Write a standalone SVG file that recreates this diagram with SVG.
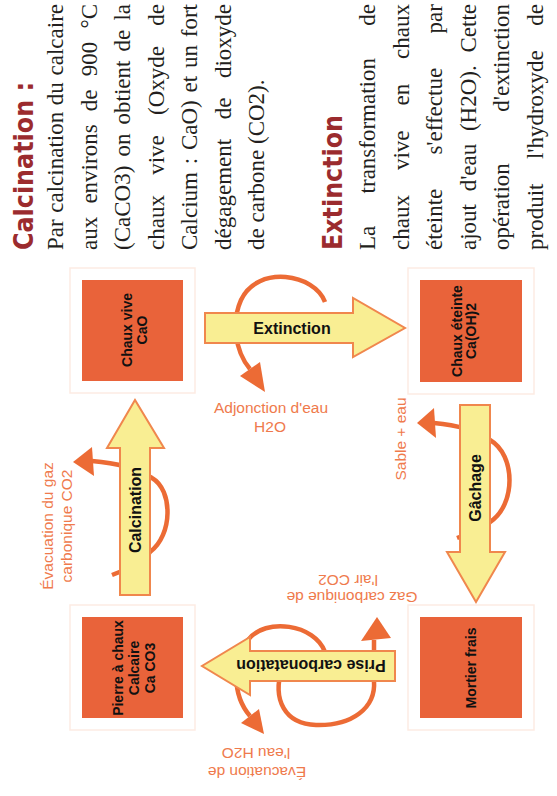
<svg xmlns="http://www.w3.org/2000/svg" width="557" height="796" viewBox="0 0 557 796">
<style>
.body{font-family:"Liberation Serif","Times New Roman",serif;font-size:23px;fill:#231f20}
.head{font-family:"DejaVu Sans","Liberation Sans",sans-serif;font-weight:bold;font-size:27px;fill:#9b2b2e}
.box{fill:#e9633a}
.halo{fill:none;stroke:#fdebe3;stroke-width:1.5}
.ntext{font-family:"Liberation Sans",Arial,sans-serif;font-weight:bold;font-size:14px;fill:#111;text-anchor:middle}
.proc{fill:#f9ee93;stroke:#f0874d;stroke-width:2;stroke-linejoin:miter}
.plabel{font-family:"Liberation Sans",Arial,sans-serif;font-weight:bold;font-size:16px;fill:#111;text-anchor:middle}
.flow{fill:none;stroke:#ec6b35;stroke-width:4.5;stroke-linecap:butt}
.fhead{fill:#ec6b35}
.olabel{font-family:"Liberation Sans",Arial,sans-serif;font-size:15.5px;fill:#ef7a4c;text-anchor:middle}
.e{text-anchor:end}
</style>
<rect width="557" height="796" fill="#ffffff"/>

<g id="text-column">
  <text class="head" transform="translate(33,250) rotate(-90)" textLength="168" lengthAdjust="spacingAndGlyphs">Calcination :</text>
  <text class="body" transform="translate(63,250) rotate(-90)"><tspan x="0">Par</tspan><tspan x="37.3">calcination</tspan><tspan x="144.85">du</tspan><tspan x="246" class="e">calcaire</tspan></text>
  <text class="body" transform="translate(96.5,250) rotate(-90)"><tspan x="0">aux</tspan><tspan x="46.4">environs</tspan><tspan x="138.8">de</tspan><tspan x="173.7">900</tspan><tspan x="246" class="e">°C</tspan></text>
  <text class="body" transform="translate(130,250) rotate(-90)"><tspan x="0">(CaCO3)</tspan><tspan x="93.4">on</tspan><tspan x="125.5">obtient</tspan><tspan x="198.5">de</tspan><tspan x="246" class="e">la</tspan></text>
  <text class="body" transform="translate(163.5,250) rotate(-90)"><tspan x="0">chaux</tspan><tspan x="75.2">vive</tspan><tspan x="135.1">(Oxyde</tspan><tspan x="246" class="e">de</tspan></text>
  <text class="body" transform="translate(197,250) rotate(-90)"><tspan x="0">Calcium</tspan><tspan x="85.7">:</tspan><tspan x="99.9">CaO)</tspan><tspan x="157.5">et</tspan><tspan x="181.9">un</tspan><tspan x="246" class="e">fort</tspan></text>
  <text class="body" transform="translate(230.5,250) rotate(-90)"><tspan x="0">dégagement</tspan><tspan x="130.7">de</tspan><tspan x="246" class="e">dioxyde</tspan></text>
  <text class="body" transform="translate(264,250) rotate(-90)">de carbone (CO2).</text>

  <text class="head" transform="translate(342,250) rotate(-90)" textLength="135" lengthAdjust="spacingAndGlyphs">Extinction</text>
  <text class="body" transform="translate(375,250) rotate(-90)"><tspan x="0">La</tspan><tspan x="56.6">transformation</tspan><tspan x="246" class="e">de</tspan></text>
  <text class="body" transform="translate(408.5,250) rotate(-90)"><tspan x="0">chaux</tspan><tspan x="79.9">vive</tspan><tspan x="144.5">en</tspan><tspan x="246" class="e">chaux</tspan></text>
  <text class="body" transform="translate(442,250) rotate(-90)"><tspan x="0">éteinte</tspan><tspan x="95.4">s'effectue</tspan><tspan x="246" class="e">par</tspan></text>
  <text class="body" transform="translate(475.5,250) rotate(-90)"><tspan x="0">ajout</tspan><tspan x="58.7">d'eau</tspan><tspan x="118.9">(H2O).</tspan><tspan x="246" class="e">Cette</tspan></text>
  <text class="body" transform="translate(509,250) rotate(-90)"><tspan x="0">opération</tspan><tspan x="246" class="e">d'extinction</tspan></text>
  <text class="body" transform="translate(542.5,250) rotate(-90)"><tspan x="0">produit</tspan><tspan x="90.9">l'hydroxyde</tspan><tspan x="246" class="e">de</tspan></text>
</g>

<g id="side-flows">
  <g id="flow-adjonction">
    <path class="flow" d="M 325 302 C 315 274, 258 264, 241 300 C 232 320, 234 350, 250 369"/>
    <polygon class="fhead" points="240,376 260,362 265,392"/>
    <text class="olabel" x="271" y="413">Adjonction d'eau</text>
    <text class="olabel" x="270" y="432">H2O</text>
  </g>
  <g id="flow-evac-co2">
    <path class="flow" d="M 112 575 L 132 567 Q 145 560 150 552 C 173 535, 173 490, 152 478 Q 130 464 92 461"/>
    <polygon class="fhead" points="73,462 92,447 94,476"/>
    <text class="olabel" transform="translate(53,526) rotate(-90)">Évacuation du gaz</text>
    <text class="olabel" transform="translate(72,526) rotate(-90)">carbonique CO2</text>
  </g>
  <g id="flow-sable">
    <path class="flow" d="M 457 538 L 478 530 Q 488 526 490 522 C 516 505, 516 455, 490 440 Q 470 426 434 423"/>
    <polygon class="fhead" points="417,423 434,408 436,438"/>
    <text class="olabel" transform="translate(406,439) rotate(-90)">Sable + eau</text>
  </g>
  <g id="flow-evac-h2o">
    <path class="flow" d="M 325 652 C 315 624, 265 617, 248 640 C 232 660, 232 695, 250 716"/>
    <polygon class="fhead" points="241,723 259,709 264,734"/>
    <text class="olabel" transform="translate(257,767) rotate(180)">Évacuation de</text>
    <text class="olabel" transform="translate(256,748) rotate(180)">l'eau H2O</text>
  </g>
  <g id="flow-co2-air">
    <path class="flow" d="M 282 668 C 272 700, 285 724, 316 725 C 352 726, 376 708, 374 681 L 374 640"/>
    <polygon class="fhead" points="361,641 391,638 377,617"/>
    <text class="olabel" transform="translate(352,592) rotate(180)">Gaz carbonique de</text>
    <text class="olabel" transform="translate(348,575) rotate(180)">l'air CO2</text>
  </g>
</g>

<g id="connectors">
  <g id="arrow-calcination">
    <polygon class="proc" points="120,595 120,448 107,448 135,400 164,448 150,448 150,595"/>
    <text class="plabel" transform="translate(141,510) rotate(-90)">Calcination</text>
  </g>
  <g id="arrow-extinction">
    <polygon class="proc" points="205,313 353,313 353,298 405,328 353,357 353,343 205,343"/>
    <text class="plabel" x="292" y="334">Extinction</text>
  </g>
  <g id="arrow-gachage">
    <polygon class="proc" points="460,405 490,405 490,552 505,552 476,602 447,552 460,552"/>
    <text class="plabel" transform="translate(481,488) rotate(-90)">Gâchage</text>
  </g>
  <g id="arrow-prise">
    <polygon class="proc" points="395,651 250,651 250,637 202,666 250,695 250,681 395,681"/>
    <text class="plabel" transform="translate(311,660) rotate(180)">Prise carbonatation</text>
  </g>
</g>

<g id="node-chaux-vive">
  <rect class="halo" x="70" y="268" width="125" height="125"/>
  <rect class="box" x="82" y="280" width="101" height="101"/>
  <text class="ntext" transform="translate(132,330) rotate(-90)">Chaux vive</text>
  <text class="ntext" transform="translate(147,330) rotate(-90)">CaO</text>
</g>
<g id="node-chaux-eteinte">
  <rect class="halo" x="408" y="268" width="126" height="126"/>
  <rect class="box" x="420" y="280" width="102" height="102"/>
  <text class="ntext" transform="translate(462,331) rotate(-90)">Chaux éteinte</text>
  <text class="ntext" transform="translate(476,331) rotate(-90)">Ca(OH)2</text>
</g>
<g id="node-pierre">
  <rect class="halo" x="70" y="605" width="125" height="125"/>
  <rect class="box" x="82" y="617" width="101" height="101"/>
  <text class="ntext" transform="translate(123,668) rotate(-90)">Pierre à chaux</text>
  <text class="ntext" transform="translate(139,668) rotate(-90)">Calcaire</text>
  <text class="ntext" transform="translate(155,668) rotate(-90)">Ca CO3</text>
</g>
<g id="node-mortier">
  <rect class="halo" x="408" y="605" width="126" height="125"/>
  <rect class="box" x="420" y="617" width="102" height="101"/>
  <text class="ntext" transform="translate(476,668) rotate(-90)">Mortier frais</text>
</g>
</svg>
